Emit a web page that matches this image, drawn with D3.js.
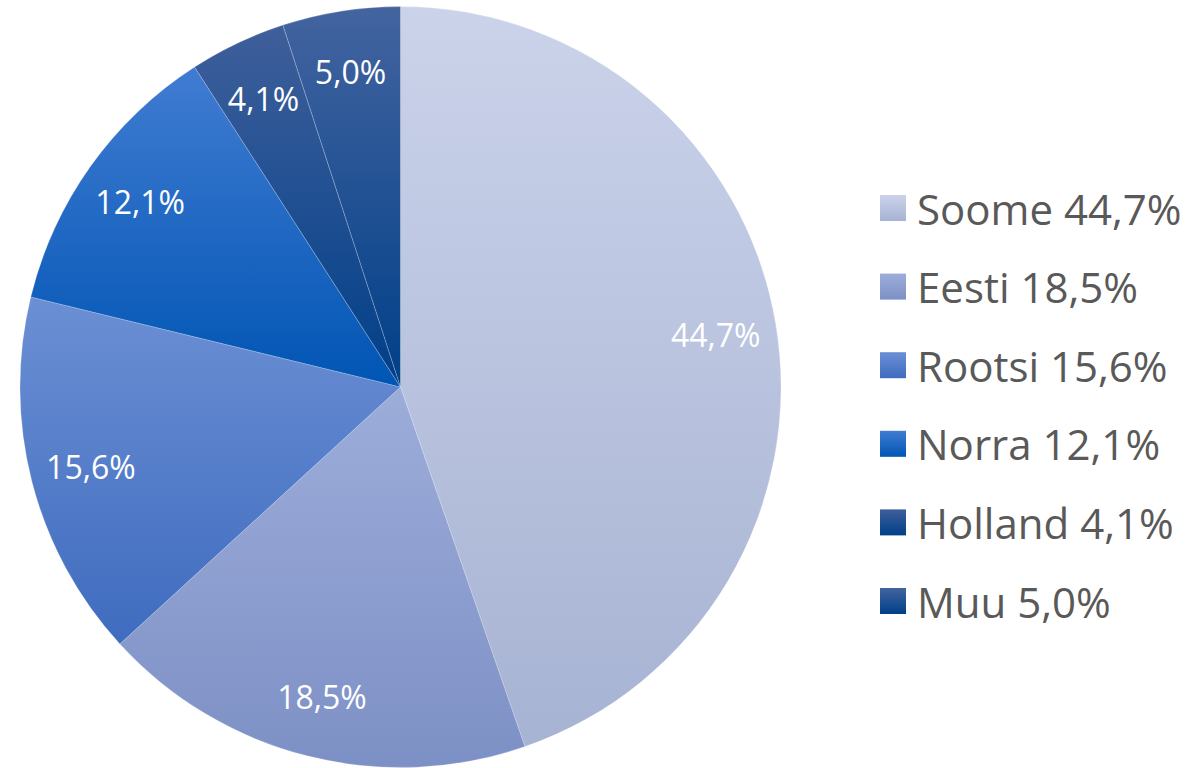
<!DOCTYPE html>
<html><head><meta charset="utf-8">
<script src="https://cdn.jsdelivr.net/npm/d3@7"></script>
<style>html,body{margin:0;padding:0;background:#fff;overflow:hidden}</style>
</head><body>
<svg id="c" width="1194" height="768"></svg>
<script>
const categories = ["Soome","Eesti","Rootsi","Norra","Holland","Muu"];
const values = [44.7,18.5,15.6,12.1,4.1,5.0];
const labels = ["44,7%","18,5%","15,6%","12,1%","4,1%","5,0%"];
const colorTop = ["#cbd3ea","#9dadda","#6b8fd4","#417cd2","#3f5f9b","#43649f"];
const colorBot = ["#a7b3d3","#7d90c5","#3f6cbf","#0055b4","#003f88","#003f88"];

const svg = d3.select("#c");
const defs = svg.append("defs");
categories.forEach((c,i)=>{
  const g = defs.append("linearGradient").attr("id","g"+i).attr("x1",0).attr("y1",0).attr("x2",0).attr("y2",1);
  g.append("stop").attr("offset","0%").attr("stop-color",colorTop[i]);
  g.append("stop").attr("offset","100%").attr("stop-color",colorBot[i]);
});
const cx=400.5, cy=387, R=380.5;
const data = categories.map((c,i)=>({c,v:values[i],l:labels[i],i}));
const pie = d3.pie().value(d=>d.v).sort(null);
const arc = d3.arc().innerRadius(0).outerRadius(R);
const larc = d3.arc().innerRadius(R*0.84).outerRadius(R*0.84);
const g = svg.append("g").attr("transform",`translate(${cx},${cy})`);
const arcs = pie(data);
g.selectAll("path").data(arcs).enter().append("path")
  .attr("d",arc).attr("fill",d=>`url(#g${d.data.i})`)
  .attr("stroke","rgba(255,255,255,0.25)").attr("stroke-width",0.8);
g.selectAll("text").data(arcs).enter().append("text")
  .attr("transform",d=>`translate(${larc.centroid(d)})`)
  .attr("text-anchor","middle").attr("dominant-baseline","central")
  .attr("fill","#fff").attr("font-family","'Open Sans', sans-serif").attr("font-size",32)
  .text(d=>d.data.l);

const leg = svg.append("g");
const ly = d3.scalePoint().domain(categories).range([208,601]);
categories.forEach((c,i)=>{
  const y = ly(c);
  leg.append("rect").attr("x",880).attr("y",y-13).attr("width",26).attr("height",26).attr("fill",`url(#g${i})`);
  leg.append("text").attr("x",917).attr("y",y).attr("dominant-baseline","central")
    .attr("fill","#595959").attr("font-family","'Open Sans', sans-serif").attr("font-size",42)
    .text(c+" "+labels[i]);
});
</script>
</body></html>
